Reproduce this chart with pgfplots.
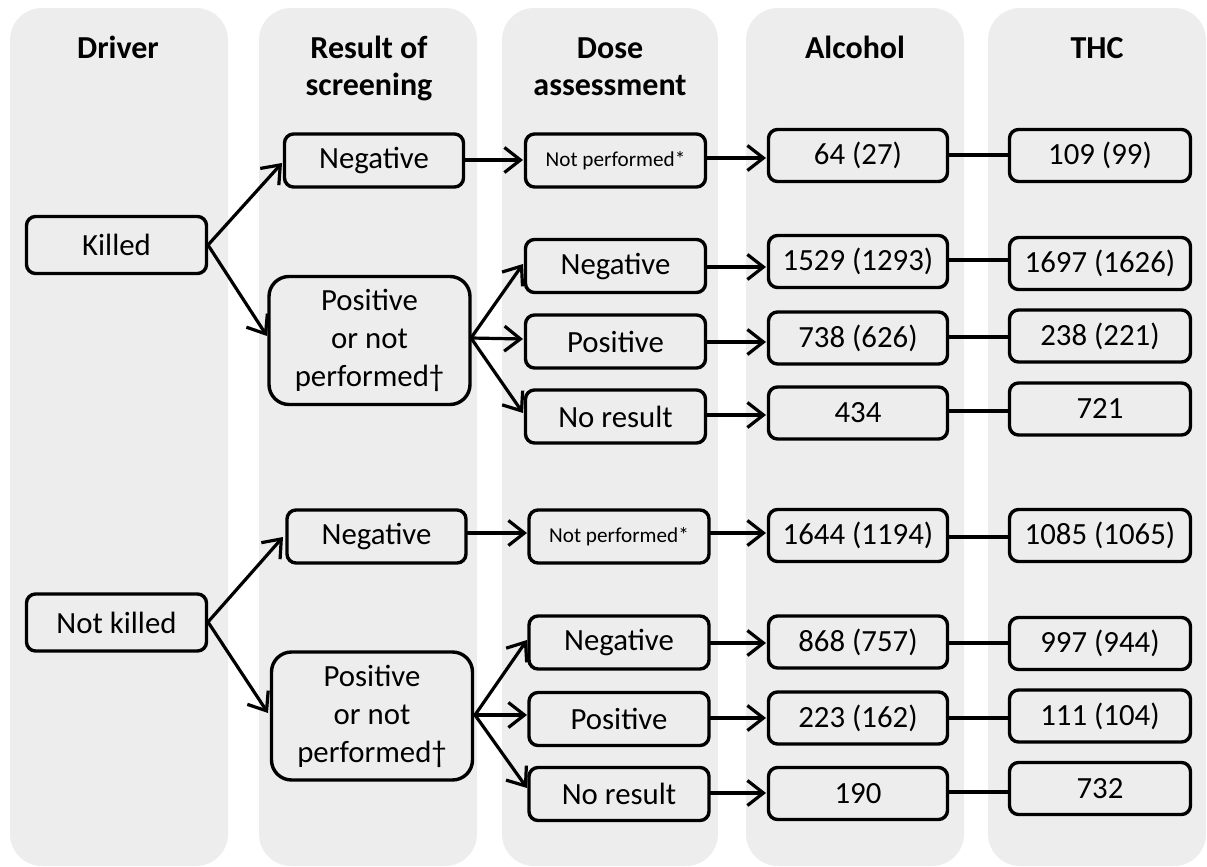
\documentclass[border=0pt]{standalone}
\usepackage{fontspec}
\setmainfont{Carlito}
\usepackage{pgfplots}
\pgfplotsset{compat=1.18}
\usepackage{pgfplotstable}
\usetikzlibrary{arrows.meta}
\definecolor{bg}{RGB}{237,237,237}

\pgfplotstableread[col sep=comma]{
x,y,label
116.5,245,Killed
116.5,622.5,Not killed
}\driver
\pgfplotstableread[col sep=comma]{
x,y,label
374,160.5,Negative
376.5,536.5,Negative
}\screenneg
\pgfplotstableread[col sep=comma]{
x,y,label
615.5,266,Negative
615.5,341.5,Positive
615.5,416.5,No result
619,642.5,Negative
619,719,Positive
619,794,No result
}\dose
\pgfplotstableread[col sep=comma]{
x,y,label
615.5,160.5,Not performed*
619,536.5,Not performed*
}\dosenp
\pgfplotstableread[col sep=comma]{
x,y,label
858,155.5,64 (27)
858,261.5,1529 (1293)
858,338,738 (626)
858,413,434
858,535.5,1644 (1194)
858,642,868 (757)
858,718,223 (162)
858,793.5,190
}\alcohol
\pgfplotstableread[col sep=comma]{
x,y,label
1100,155.5,109 (99)
1100,263.5,1697 (1626)
1100,336,238 (221)
1100,409,721
1100,535.5,1085 (1065)
1100,643.5,997 (944)
1100,716,111 (104)
1100,788.5,732
}\thc

\tikzset{
  box/.style={draw=black, line width=1.7pt, rounded corners=4.5pt, inner sep=0pt,
    align=center, font=\fontsize{15.4}{19}\selectfont, anchor=center, text=black},
  arr/.style={line width=1.6pt, line cap=round, -{Straight Barb[length=8pt,width=12.5pt,line width=1.6pt]}},
  conn/.style={line width=1.6pt},
  hdr/.style={font=\bfseries\fontsize{16}{19}\selectfont, anchor=base, text=black},
}

\begin{document}
\begin{tikzpicture}
\begin{axis}[
  width=603.5pt, height=433.5pt, scale only axis,
  xmin=0, xmax=1207, ymin=0, ymax=867, y dir=reverse,
  hide axis, clip=false,
  nodes near coords align={center},
]
% full frame for the bounding box
\path (axis cs:0,0) rectangle (axis cs:1207,867);
% background columns
\fill[bg, rounded corners=16pt] (axis cs:10,8) rectangle (axis cs:228,866);
\fill[bg, rounded corners=16pt] (axis cs:259,8) rectangle (axis cs:477,866);
\fill[bg, rounded corners=16pt] (axis cs:502,8) rectangle (axis cs:718,866);
\fill[bg, rounded corners=16pt] (axis cs:746,8) rectangle (axis cs:964,866);
\fill[bg, rounded corners=16pt] (axis cs:988,8) rectangle (axis cs:1206,866);

% headers
\node[hdr] at (axis cs:118,58) {Driver};
\node[hdr] at (axis cs:369,58) {Result of};
\node[hdr] at (axis cs:369,96) {screening};
\node[hdr] at (axis cs:610,58) {Dose};
\node[hdr] at (axis cs:610,96) {assessment};
\node[hdr] at (axis cs:855,58) {Alcohol};
\node[hdr] at (axis cs:1097,58) {THC};

% arrows: killed
\addplot[arr] coordinates {(208,245) (282,163)};
\addplot[arr] coordinates {(208,245) (267,336)};
\addplot[arr] coordinates {(465,160) (523,160)};
\addplot[arr] coordinates {(471,338) (523,264)};
\addplot[arr] coordinates {(471,338) (523,339)};
\addplot[arr] coordinates {(471,338) (523,413)};
\addplot[arr] coordinates {(707,158) (766,158)};
\addplot[arr] coordinates {(707,267) (766,267)};
\addplot[arr] coordinates {(707,342) (766,342)};
\addplot[arr] coordinates {(707,415) (766,415)};
\addplot[conn] coordinates {(949,155) (1008,155)};
\addplot[conn] coordinates {(949,260) (1008,260)};
\addplot[conn] coordinates {(949,337) (1008,337)};
\addplot[conn] coordinates {(949,411) (1008,411)};
% arrows: not killed
\addplot[arr] coordinates {(208,622) (283,537)};
\addplot[arr] coordinates {(208,622) (268,713)};
\addplot[arr] coordinates {(468,533) (527,533)};
\addplot[arr] coordinates {(475,715) (527,640)};
\addplot[arr] coordinates {(475,715) (527,715)};
\addplot[arr] coordinates {(475,715) (527,788)};
\addplot[arr] coordinates {(710,533) (766,533)};
\addplot[arr] coordinates {(710,643) (766,643)};
\addplot[arr] coordinates {(710,718) (766,718)};
\addplot[arr] coordinates {(710,793) (766,793)};
\addplot[conn] coordinates {(949,537) (1008,537)};
\addplot[conn] coordinates {(949,643) (1008,643)};
\addplot[conn] coordinates {(949,718) (1008,718)};
\addplot[conn] coordinates {(949,792) (1008,792)};

% boxes
\addplot[draw=none, mark=none, nodes near coords, point meta=explicit symbolic,
  every node near coord/.append style={box, minimum width=90pt, minimum height=28.5pt}]
  table[x=x,y=y,meta=label]{\driver};
\addplot[draw=none, mark=none, nodes near coords, point meta=explicit symbolic,
  every node near coord/.append style={box, minimum width=89.5pt, minimum height=26.5pt}]
  table[x=x,y=y,meta=label]{\screenneg};
\addplot[draw=none, mark=none, nodes near coords={Positive\\or not\\performed†},
  every node near coord/.append style={box, rounded corners=10pt, minimum width=100.5pt, minimum height=64pt}]
  coordinates {(369.5,340.5) (372,716)};
\addplot[draw=none, mark=none, nodes near coords, point meta=explicit symbolic,
  every node near coord/.append style={box, minimum width=90pt, minimum height=26.5pt}]
  table[x=x,y=y,meta=label]{\dose};
\addplot[draw=none, mark=none, nodes near coords, point meta=explicit symbolic,
  every node near coord/.append style={box, font=\fontsize{10.6}{12}\selectfont, minimum width=90pt, minimum height=26.5pt}]
  table[x=x,y=y,meta=label]{\dosenp};
\addplot[draw=none, mark=none, nodes near coords, point meta=explicit symbolic,
  every node near coord/.append style={box, minimum width=89.5pt, minimum height=26pt}]
  table[x=x,y=y,meta=label]{\alcohol};
\addplot[draw=none, mark=none, nodes near coords, point meta=explicit symbolic,
  every node near coord/.append style={box, minimum width=90.5pt, minimum height=26pt}]
  table[x=x,y=y,meta=label]{\thc};
\end{axis}
\end{tikzpicture}
\end{document}
